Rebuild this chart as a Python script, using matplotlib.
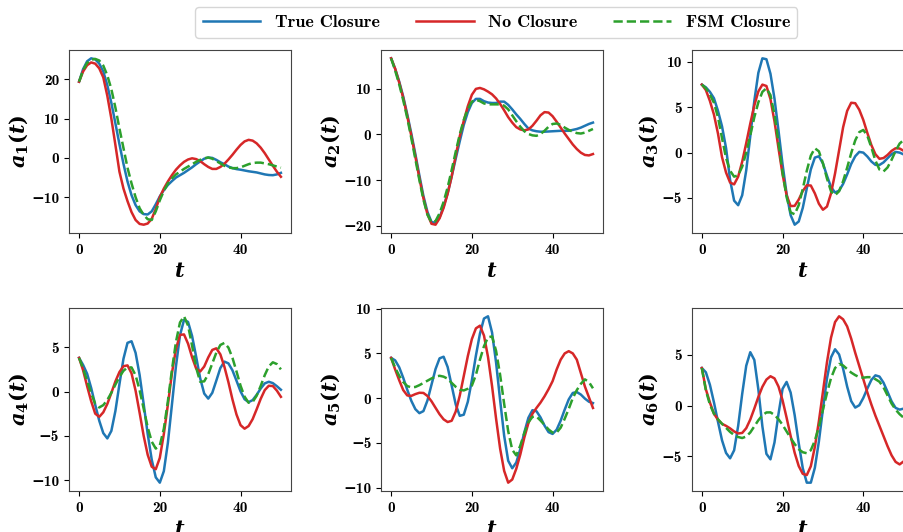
import matplotlib
matplotlib.use("Agg")
import matplotlib.pyplot as plt
import numpy as np

# time grid shared by all modes
t = np.arange(0, 51, 1)

# a1(t)
a1_true = [19.4, 22.6, 24.6, 25.35, 25.1, 24.0, 22.0, 18.5, 14.0, 8.8,
           3.5, -1.5, -6.0, -9.5, -12.0, -13.6, -14.3, -14.4, -13.6, -11.8,
           -9.8, -8.2, -6.9, -5.9, -5.0, -4.4, -3.8, -3.1, -2.4, -1.6,
           -0.9, -0.2, 0.1, 0.0, -0.5, -1.1, -1.6, -2.2, -2.6, -2.85,
           -3.0, -3.2, -3.4, -3.55, -3.7, -3.95, -4.2, -4.35, -4.4, -4.2,
           -3.8]
a1_none = [19.4, 22.0, 23.6, 24.3, 24.0, 22.8, 20.5, 15.8, 10.0, 3.3,
           -3.5, -7.8, -11.0, -13.8, -15.8, -16.8, -17.0, -16.7, -15.5, -13.0,
           -10.0, -7.8, -6.0, -4.4, -3.0, -1.9, -1.0, -0.4, -0.1, -0.3,
           -0.8, -1.6, -2.3, -2.8, -2.8, -2.3, -1.5, -0.4, 0.8, 2.1,
           3.3, 4.2, 4.6, 4.4, 3.7, 2.6, 1.2, -0.4, -2.0, -3.5,
           -4.8]
a1_fsm = [19.4, 22.3, 24.2, 25.0, 25.2, 24.8, 23.5, 21.0, 17.5, 12.8,
          7.5, 2.5, -2.5, -6.5, -10.0, -12.8, -14.5, -15.6, -15.8, -13.6,
          -10.8, -8.4, -6.5, -5.2, -4.2, -3.5, -2.8, -2.2, -1.6, -1.0,
          -0.5, -0.1, 0.1, -0.2, -0.8, -1.4, -2.0, -2.4, -2.6, -2.6,
          -2.4, -2.0, -1.6, -1.3, -1.2, -1.2, -1.4, -1.6, -1.9, -2.2,
          -2.5]

# a2(t)
a2_true = [16.7, 14.4, 11.6, 8.3, 4.4, 0.2, -4.3, -9.0, -13.5, -17.0,
           -19.2, -19.4, -18.2, -15.8, -12.9, -9.2, -5.3, -1.5, 2.1, 4.9,
           6.9, 7.8, 7.8, 7.3, 7.0, 6.9, 6.9, 7.2, 7.2, 6.5,
           5.5, 4.4, 3.4, 2.3, 1.3, 0.9, 0.7, 0.6, 0.6, 0.65,
           0.7, 0.75, 0.8, 0.8, 0.8, 1.0, 1.2, 1.5, 1.9, 2.3,
           2.6]
a2_none = [16.7, 14.4, 11.4, 8.0, 4.0, -0.3, -4.8, -9.6, -14.0, -17.5,
           -19.6, -19.8, -18.4, -16.1, -13.0, -9.2, -4.6, -0.4, 3.0, 6.2,
           8.7, 10.0, 10.2, 9.9, 9.4, 8.8, 7.9, 6.7, 5.3, 3.8,
           2.6, 1.6, 1.1, 0.9, 1.1, 1.9, 3.0, 4.2, 4.9, 4.8,
           4.0, 2.8, 1.5, 0.2, -1.0, -2.2, -3.2, -4.0, -4.5, -4.6,
           -4.3]
a2_fsm = [16.7, 14.0, 11.0, 7.5, 3.6, -0.8, -5.4, -10.0, -14.3, -17.6,
          -19.3, -19.0, -17.3, -14.8, -11.6, -7.8, -3.8, 0.0, 3.2, 5.6,
          7.2, 7.6, 7.3, 6.8, 6.6, 6.6, 6.6, 6.6, 6.3, 5.5,
          4.2, 2.9, 1.7, 0.7, 0.1, -0.2, -0.3, 0.1, 0.8, 1.7,
          2.3, 2.4, 2.1, 1.5, 1.0, 0.6, 0.3, 0.2, 0.4, 0.8,
          1.2]

# a3(t)
a3_true = [7.5, 7.2, 6.7, 6.0, 4.6, 2.9, 0.5, -3.0, -5.3, -5.8,
           -4.7, -1.95, 1.8, 5.7, 8.8, 10.4, 10.3, 8.7, 5.95, 2.4,
           -1.3, -4.55, -6.9, -7.95, -7.6, -6.1, -3.95, -1.85, -0.55, -0.4,
           -1.2, -2.55, -3.8, -4.4, -4.2, -3.45, -2.4, -1.25, -0.4, 0.08,
           0.0, -0.43, -0.98, -1.35, -1.36, -1.08, -0.62, -0.18, 0.08, 0.0,
           -0.2]
a3_none = [7.5, 6.9, 5.7, 4.2, 2.1, -0.5, -2.2, -3.3, -3.5, -2.65,
           -1.0, 1.05, 3.2, 5.2, 6.75, 7.5, 7.35, 5.9, 3.45, 0.46,
           -2.4, -4.7, -5.9, -5.87, -5.18, -4.24, -3.6, -3.63, -4.5, -5.64,
           -6.3, -5.95, -4.5, -2.3, 0.25, 2.8, 4.6, 5.5, 5.45, 4.73,
           3.6, 2.17, 0.83, -0.18, -0.68, -0.6, -0.26, 0.19, 0.48, 0.45,
           0.2]
a3_fsm = [7.5, 7.1, 6.4, 5.5, 3.9, 1.6, -0.6, -2.0, -2.65, -2.5,
          -1.55, 0.0, 1.9, 3.9, 5.55, 6.7, 7.1, 6.35, 4.2, 1.08,
          -2.2, -4.9, -6.6, -6.8, -5.8, -4.0, -2.0, -0.33, 0.48, 0.14,
          -1.17, -2.86, -4.26, -4.7, -4.26, -3.15, -1.66, -0.06, 1.35, 2.26,
          2.5, 1.86, 0.57, -0.88, -1.87, -2.08, -1.64, -0.8, 0.19, 1.0,
          1.39]

# a4(t)
a4_true = [3.8, 3.0, 2.0, 0.4, -1.5, -3.3, -4.7, -5.3, -4.45, -2.2,
           0.83, 3.7, 5.5, 5.68, 4.37, 1.87, -1.4, -4.8, -7.7, -9.7,
           -10.3, -9.0, -5.8, -1.5, 2.85, 6.35, 8.1, 7.86, 6.27, 3.94,
           1.5, -0.23, -0.8, -0.15, 1.23, 2.65, 3.38, 3.18, 2.39, 1.22,
           0.02, -0.87, -1.2, -0.97, -0.37, 0.34, 0.92, 1.1, 0.95, 0.6,
           0.2]
a4_none = [3.8, 2.4, 0.6, -1.1, -2.5, -2.86, -2.35, -1.4, -0.15, 1.14,
           2.2, 2.86, 2.95, 2.05, 0.1, -2.4, -5.0, -7.15, -8.5, -8.78,
           -7.5, -4.8, -1.5, 2.05, 4.8, 6.4, 6.45, 5.4, 3.87, 2.6,
           2.26, 2.82, 3.85, 4.7, 4.88, 4.2, 2.8, 1.05, -0.9, -2.6,
           -3.8, -4.2, -3.9, -3.12, -2.0, -0.82, 0.16, 0.65, 0.62, 0.1,
           -0.6]
a4_fsm = [3.8, 2.6, 1.2, -0.2, -1.4, -1.8, -1.54, -0.95, -0.14, 0.78,
          1.65, 2.34, 2.73, 2.72, 1.84, 0.15, -1.93, -4.04, -5.66, -6.45,
          -6.1, -4.2, -1.1, 2.43, 5.6, 7.8, 8.5, 7.45, 5.17, 2.7,
          1.1, 1.15, 1.95, 3.17, 4.39, 5.26, 5.49, 4.96, 3.8, 2.27,
          0.66, -0.58, -1.27, -1.18, -0.47, 0.64, 1.85, 2.84, 3.3, 3.1,
          2.5]

# a5(t)
a5_true = [4.5, 4.22, 3.45, 2.27, 0.93, -0.3, -1.23, -1.68, -1.45, -0.26,
           1.5, 3.25, 4.45, 4.63, 3.48, 1.4, -0.7, -1.98, -1.85, -0.4,
           1.99, 4.75, 7.2, 8.9, 9.15, 7.34, 3.97, -0.22, -4.2, -7.0,
           -7.84, -7.2, -5.7, -3.83, -2.2, -1.35, -1.46, -2.15, -3.07, -3.8,
           -4.0, -3.53, -2.52, -1.28, -0.14, 0.58, 0.68, 0.4, -0.05, -0.4,
           -0.55]
a5_none = [4.5, 3.2, 2.0, 0.9, 0.3, 0.25, 0.45, 0.6, 0.58, 0.24,
           -0.35, -1.08, -1.8, -2.37, -2.67, -2.53, -1.5, 0.27, 2.48, 4.7,
           6.6, 7.8, 8.1, 7.0, 4.6, 1.35, -2.3, -5.64, -8.13, -9.45,
           -9.1, -7.9, -6.3, -4.4, -2.8, -1.75, -1.1, -0.5, 0.2, 1.0,
           1.9, 3.2, 4.3, 5.0, 5.25, 5.0, 4.3, 2.8, 1.3, 0.1,
           -1.1]
a5_fsm = [4.5, 3.4, 2.5, 1.8, 1.35, 1.2, 1.25, 1.45, 1.7, 1.95,
          2.2, 2.4, 2.5, 2.4, 2.17, 1.7, 1.27, 0.95, 0.86, 1.05,
          1.4, 2.6, 4.3, 5.8, 6.8, 6.9, 5.28, 2.6, -0.64, -3.7,
          -5.77, -6.4, -5.3, -3.9, -2.7, -2.1, -2.05, -2.5, -3.0, -3.5,
          -3.85, -3.85, -3.3, -2.3, -1.2, 0.0, 0.9, 1.6, 2.1, 1.8,
          1.1]

# a6(t)
a6_true = [3.7, 3.28, 2.05, 0.32, -1.6, -3.42, -4.67, -5.2, -4.41, -2.0,
           1.15, 3.93, 5.26, 4.5, 1.6, -2.05, -4.76, -5.3, -3.63, -0.8,
           1.65, 2.33, 1.28, -0.95, -3.7, -6.17, -7.6, -7.6, -6.13, -3.53,
           -0.33, 2.67, 4.75, 5.55, 5.04, 3.63, 1.87, 0.44, -0.2, 0.03,
           0.75, 1.68, 2.53, 2.98, 2.86, 2.26, 1.36, 0.42, -0.23, -0.4,
           -0.3]
a6_none = [3.7, 1.6, 0.3, -0.8, -1.4, -1.8, -2.0, -2.25, -2.55, -2.75,
           -2.7, -2.23, -1.38, -0.3, 0.85, 1.85, 2.56, 2.89, 2.68, 1.87,
           0.52, -1.2, -3.0, -4.66, -5.96, -6.73, -6.85, -5.98, -4.07, -1.53,
           1.36, 4.27, 6.69, 8.23, 8.8, 8.5, 7.8, 6.6, 5.2, 3.9,
           2.6, 1.3, 0.1, -1.0, -2.0, -3.0, -4.0, -4.9, -5.55, -5.8,
           -5.5]
a6_fsm = [3.7, 1.5, 0.1, -0.8, -1.35, -1.8, -2.2, -2.6, -2.9, -3.1,
          -3.2, -3.05, -2.65, -2.05, -1.45, -0.95, -0.68, -0.67, -0.92, -1.35,
          -1.9, -2.55, -3.2, -3.8, -4.3, -4.6, -4.7, -4.4, -3.45, -2.1,
          -0.4, 1.23, 2.7, 3.7, 4.1, 3.95, 3.6, 3.25, 3.0, 2.8,
          2.75, 2.8, 2.8, 2.6, 2.35, 1.8, 1.0, 0.2, -0.4, -0.85,
          -1.2]

MODES = [
    (a1_true, a1_none, a1_fsm),
    (a2_true, a2_none, a2_fsm),
    (a3_true, a3_none, a3_fsm),
    (a4_true, a4_none, a4_fsm),
    (a5_true, a5_none, a5_fsm),
    (a6_true, a6_none, a6_fsm),
]
LABELS = ["True Closure", "No Closure", "FSM Closure"]
COLORS = ["#1f77b4", "#d62728", "#2ca02c"]
STYLES = ["-", "-", "--"]

plt.rcParams.update(
    {
        "font.family": ["cmb10", "DejaVu Serif"],
        "font.weight": "bold",
        "mathtext.fontset": "custom",
        "mathtext.it": "DejaVu Serif:italic:bold",
        "mathtext.rm": "DejaVu Serif:bold",
        "mathtext.bf": "DejaVu Serif:bold",
        "axes.unicode_minus": True,
        "axes.edgecolor": "#444444",
        "xtick.labelsize": 11,
        "ytick.labelsize": 11,
    }
)

fig = plt.figure(figsize=(9.04, 5.32), dpi=100)
lefts = [0.0763, 0.4215, 0.7652]
bottoms = [0.562, 0.0771]
w, h = 0.2456, 0.344

handles = []
for i, series in enumerate(MODES):
    ax = fig.add_axes([lefts[i % 3], bottoms[i // 3], w, h])
    for vals, c, ls, lab in zip(series, COLORS, STYLES, LABELS):
        n = min(len(t), len(vals))
        (ln,) = ax.plot(t[:n], vals[:n], color=c, ls=ls, lw=1.8, label=lab)
        if i == 0:
            handles.append(ln)
    ax.set_xlabel(r"$t$", fontsize=15)
    ax.set_ylabel(rf"$a_{i + 1}(t)$", fontsize=15, labelpad=1)
    ax.set_xticks([0, 20, 40])

fig.legend(
    handles,
    LABELS,
    loc="upper center",
    bbox_to_anchor=(0.549, 1.003),
    ncol=3,
    fontsize=13,
    handlelength=3.2,
    columnspacing=2.0,
    frameon=True,
)

fig.savefig("out.png", dpi=100)
